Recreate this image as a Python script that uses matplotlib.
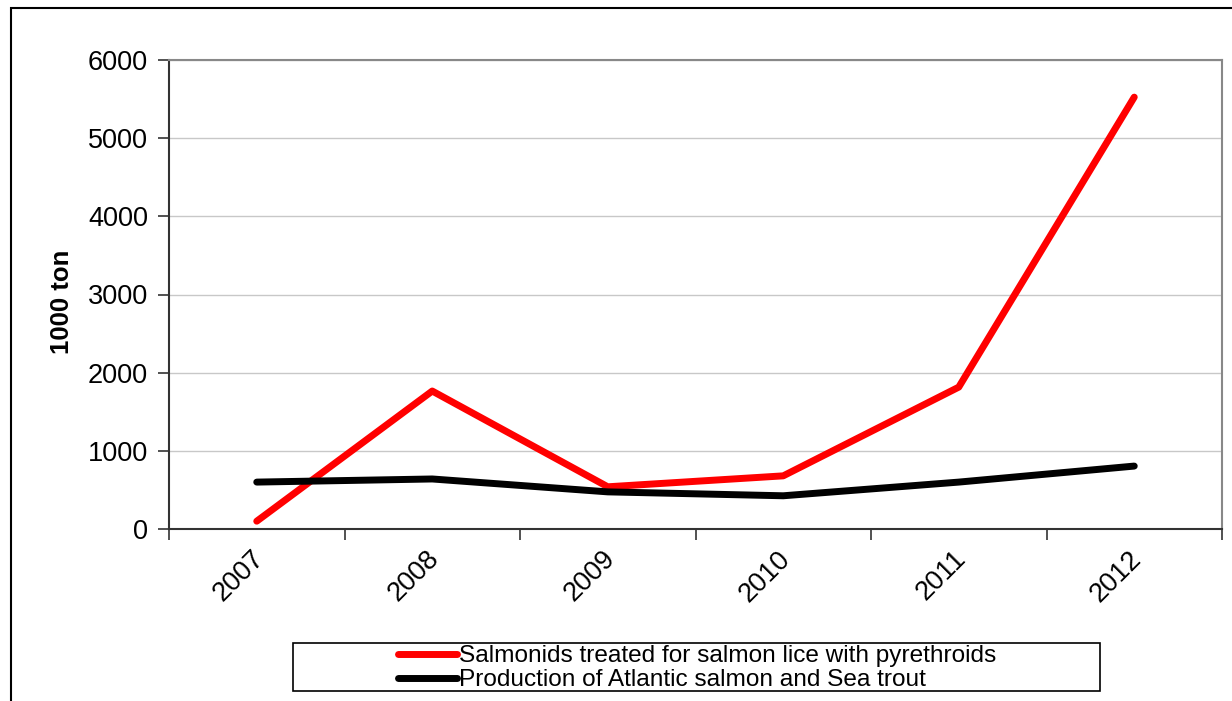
import numpy as np
import matplotlib
matplotlib.use("Agg")
import matplotlib.pyplot as plt
from matplotlib.patches import Rectangle
from matplotlib.transforms import ScaledTranslation

plt.rcParams["font.family"] = ["Liberation Sans", "DejaVu Sans"]

years = ["2007", "2008", "2009", "2010", "2011", "2012"]
treated = [100, 1765, 540, 680, 1815, 5525]       # salmonids treated with pyrethroids
production = [600, 640, 475, 425, 600, 805]       # Atlantic salmon and sea trout

W, H = 1232, 701
fig = plt.figure(figsize=(W / 100, H / 100), dpi=100)

# outer chart frame (left/top edges visible)
fig.add_artist(Rectangle((11 / W, -0.01), 1.1, 1 - 8 / H + 0.01,
                         transform=fig.transFigure, fill=False,
                         edgecolor="black", linewidth=1.5))

ax = fig.add_axes([169 / W, 1 - 529 / H, (1222 - 169) / W, (529 - 60) / H])
x = np.arange(len(years))
l1, = ax.plot(x, treated, color="#ff0000", linewidth=5, solid_capstyle="round",
              label="Salmonids treated for salmon lice with pyrethroids")
l2, = ax.plot(x, production, color="black", linewidth=5, solid_capstyle="round",
              label="Production of Atlantic salmon and Sea trout")

ax.set_xlim(-0.5, 5.5)
ax.set_ylim(0, 6000)
ax.set_yticks(range(0, 6001, 1000))
ax.yaxis.grid(True, color="#c8c8c8", linewidth=1)
ax.set_axisbelow(True)

# category boundaries carry the ticks, labels sit at the centres
ax.set_xticks(np.arange(-0.5, 5.6, 1))
ax.set_xticklabels([])
ax.set_xticks(x, minor=True)
ax.set_xticklabels(years, minor=True, rotation=45, ha="right", rotation_mode="anchor",
                   fontsize=19.5)
ax.tick_params(axis="x", which="minor", length=0, pad=12)
ax.tick_params(axis="x", which="major", length=8, width=1.2, direction="out", color="#333333")
ax.tick_params(axis="y", length=8, width=1.2, direction="out", color="#333333",
               labelsize=19.5, pad=7)
shift = ScaledTranslation(-6 / 100, 0, fig.dpi_scale_trans)
for lab in ax.get_xticklabels(minor=True):
    lab.set_transform(lab.get_transform() + shift)

for side in ("top", "right"):
    ax.spines[side].set_color("#888888")
    ax.spines[side].set_linewidth(1.5)
for side in ("left", "bottom"):
    ax.spines[side].set_color("#333333")
    ax.spines[side].set_linewidth(1.5)

ax.set_ylabel("1000 ton", fontsize=18.5, fontweight="bold")
ax.yaxis.set_label_coords((74 - 169) / (1222 - 169), (529 - 302) / (529 - 60))

# legend box, entries placed inside it
fig.add_artist(Rectangle((293 / W, 1 - 691 / H), (1100 - 293) / W, 48 / H,
                         transform=fig.transFigure, fill=False,
                         edgecolor="black", linewidth=1.2))
fig.legend(handles=[l1, l2], loc="upper left",
           bbox_to_anchor=(398 / W, 1 - 645 / H),
           fontsize=17.6, frameon=False,
           handlelength=2.4, handletextpad=0.1, borderpad=0, labelspacing=0.08,
           borderaxespad=0)

fig.savefig("out.png", dpi=100)
